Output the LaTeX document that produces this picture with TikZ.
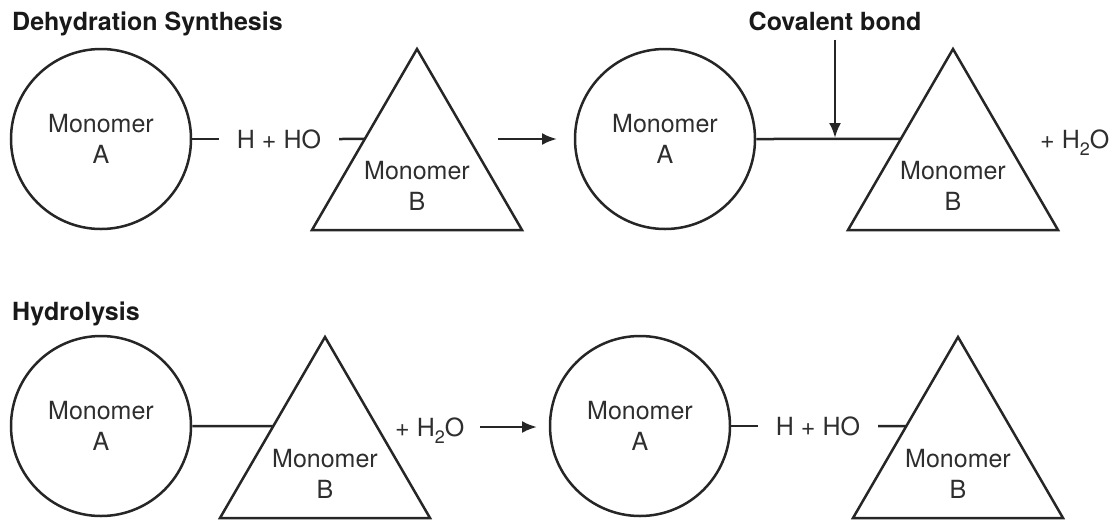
\documentclass[tikz,border=0pt]{standalone}
\usepackage{fontspec}
\setmainfont{TeX Gyre Heros}
\usetikzlibrary{arrows.meta,calc}
\newcommand{\subtwo}{\raisebox{-7pt}{\fontsize{18}{18}\selectfont 2}}
\begin{document}
\begin{tikzpicture}[x=1pt,y=-1pt,
  shp/.style={draw=black!85, line width=2.5pt, line join=miter},
  mono/.style={circle, draw=black!85, line width=2.5pt, minimum size=180pt, inner sep=0pt, align=center, font=\fontsize{25}{31.5}\selectfont, text=black!82},
  lbl/.style={align=center, font=\fontsize{25}{31.5}\selectfont, text=black!82, inner sep=0pt},
  ttl/.style={font=\fontsize{25}{28}\selectfont\bfseries, text=black!90, inner sep=0pt, anchor=base west},
  chem/.style={font=\fontsize{25}{28}\selectfont, text=black!82, inner xsep=18pt, inner ysep=0pt},
  bond/.style={draw=black!85, line width=2.5pt},
  arr/.style={draw=black!85, line width=2.5pt, -{Latex[length=15pt,width=12pt]}}
]
\useasboundingbox (0,0) rectangle (1115,520);

% ---------- Titles ----------
\node[ttl] (t1) at (12,30) {Dehydration Synthesis};
\node[ttl] (t2) at (12,320) {Hydrolysis};
\node[ttl, anchor=base] (cb) at (835,30) {Covalent bond};

% ---------- Top row ----------
\node[mono] (A1) at (101,139) {Monomer\\A};
\coordinate (B1t) at (417,49); \coordinate (B1l) at (312,230); \coordinate (B1r) at (522,230);
\draw[shp] (B1t) -- (B1l) -- (B1r) -- cycle;
\node[lbl] (B1) at (417,186) {Monomer\\B};
\coordinate (B1e) at ($(B1t)!0.497!(B1l)$);
\node[chem] (h1) at (279,139) {H + HO};
\draw[bond] (A1.east) -- (h1.west);
\draw[bond] (h1.east) -- (B1e);

\coordinate (r1s) at (498,139); \coordinate (r1e) at (557,139);
\draw[arr] (r1s) -- (r1e);

\node[mono] (A2) at (665,139) {Monomer\\A};
\coordinate (B2t) at (953,49); \coordinate (B2l) at (848,230); \coordinate (B2r) at (1058,230);
\draw[shp] (B2t) -- (B2l) -- (B2r) -- cycle;
\node[lbl] (B2) at (953,186) {Monomer\\B};
\coordinate (B2e) at ($(B2t)!0.497!(B2l)$);
\draw[bond] (A2.east) -- (B2e);
\coordinate (cbtip) at (835,138);
\draw[arr, shorten <=9pt] (cb.south) -- (cbtip);
\node[chem, anchor=base west, inner xsep=0pt] (w1) at (1040,148) {+ H\subtwo O};

% ---------- Bottom row ----------
\node[mono] (A3) at (101,426) {Monomer\\A};
\coordinate (B3t) at (325,337); \coordinate (B3l) at (220,518); \coordinate (B3r) at (430,518);
\draw[shp] (B3t) -- (B3l) -- (B3r) -- cycle;
\node[lbl] (B3) at (325,474) {Monomer\\B};
\coordinate (B3e) at ($(B3t)!0.492!(B3l)$);
\draw[bond] (A3.east) -- (B3e);
\node[chem, anchor=base west, inner xsep=0pt] (w2) at (395,436) {+ H\subtwo O};

\coordinate (r2s) at (480,427); \coordinate (r2e) at (537,427);
\draw[arr] (r2s) -- (r2e);

\node[mono] (A4) at (640,426) {Monomer\\A};
\coordinate (B4t) at (958,337); \coordinate (B4l) at (853,518); \coordinate (B4r) at (1063,518);
\draw[shp] (B4t) -- (B4l) -- (B4r) -- cycle;
\node[lbl] (B4) at (958,474) {Monomer\\B};
\coordinate (B4e) at ($(B4t)!0.492!(B4l)$);
\node[chem] (h2) at (818,426) {H + HO};
\draw[bond] (A4.east) -- (h2.west);
\draw[bond] (h2.east) -- (B4e);
\end{tikzpicture}
\end{document}
